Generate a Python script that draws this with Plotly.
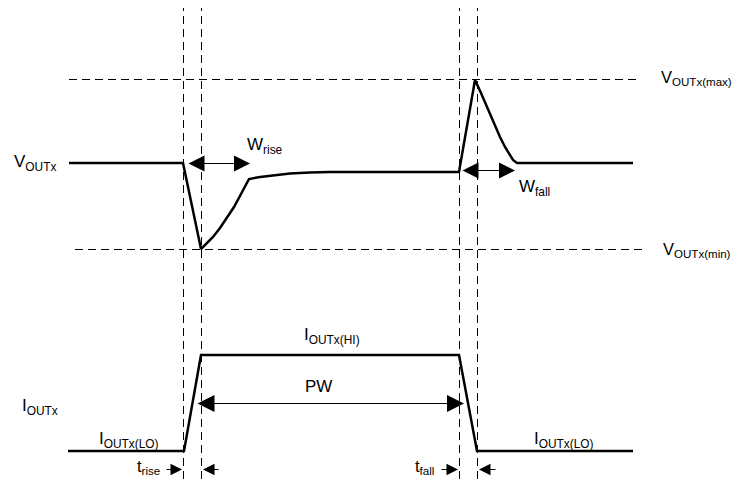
import plotly.graph_objects as go

# output voltage waveform (time, level) - axis y grows downward
t_vout = [69, 183, 201, 206, 213, 220, 227, 234, 241, 249, 260, 275, 290, 310, 330,
          459, 475, 481, 487, 494, 500, 505, 509, 513, 517, 633]
v_out = [163, 163, 249, 244, 237, 228, 218, 207, 194, 179, 177, 175, 173.5, 172.5, 172,
         172, 80, 93, 107, 122, 137, 147, 154, 160, 163, 163]

# output current waveform
t_iout = [68, 184, 201, 459, 477, 633]
i_out = [451, 451, 355, 355, 451, 451]

# timing markers and limit levels
edge_t = [183.5, 201.5, 459.5, 477.5]
edge_span = [3, 482]
v_max, v_max_span = 79.5, [69, 638]
v_min, v_min_span = 249.5, [75, 645]

FONT = "Liberation Sans, Arial, sans-serif"
DASH = "8px,5px"
PAGE_PAD = 8  # default body margin of the html page

fig = go.Figure()

for t in edge_t:
    fig.add_trace(go.Scatter(x=[t, t], y=edge_span, mode="lines",
                             line=dict(color="black", width=1, dash=DASH)))
fig.add_trace(go.Scatter(x=v_max_span, y=[v_max, v_max], mode="lines",
                         line=dict(color="black", width=1, dash=DASH)))
fig.add_trace(go.Scatter(x=v_min_span, y=[v_min, v_min], mode="lines",
                         line=dict(color="black", width=1, dash=DASH)))

fig.add_trace(go.Scatter(x=t_vout, y=v_out, mode="lines",
                         line=dict(color="black", width=2.5)))
fig.add_trace(go.Scatter(x=t_iout, y=i_out, mode="lines",
                         line=dict(color="black", width=2.5)))


def arrow(x, y, ax, ay, size, both=False):
    fig.add_annotation(x=x, y=y, ax=ax, ay=ay, xref="x", yref="y", axref="x", ayref="y",
                       text="", showarrow=True, arrowhead=2, startarrowhead=2,
                       arrowsize=size, startarrowsize=size, arrowwidth=1,
                       arrowcolor="black", arrowside="end+start" if both else "end")


arrow(250, 163.5, 187, 163.5, 3.2, both=True)    # W_rise
arrow(515, 170.5, 461, 170.5, 3.2, both=True)    # W_fall
arrow(464, 403.5, 196, 403.5, 3.4, both=True)    # PW
arrow(182, 469.5, 165, 469.5, 2.3)               # t_rise
arrow(203, 469.5, 220, 469.5, 2.3)
arrow(458, 469.5, 440, 469.5, 2.3)               # t_fall
arrow(479, 469.5, 497, 469.5, 2.3)

labels = [
    ("V<sub>OUTx</sub>", 12, 163, 17),
    ("W<sub>rise</sub>", 245, 146, 17),
    ("W<sub>fall</sub>", 517, 188, 17),
    ("V<sub>OUTx(max)</sub>", 659, 78, 16.5),
    ("V<sub>OUTx(min)</sub>", 661, 250, 16.5),
    ("I<sub>OUTx(HI)</sub>", 302, 336, 17),
    ("PW", 303, 386, 17),
    ("I<sub>OUTx</sub>", 20, 407, 17),
    ("I<sub>OUTx(LO)</sub>", 97, 440, 17),
    ("I<sub>OUTx(LO)</sub>", 532, 440, 17),
    ("t<sub>rise</sub>", 135, 466.5, 16.5),
    ("t<sub>fall</sub>", 413, 466.5, 16.5),
]
for txt, x, y, size in labels:
    fig.add_annotation(x=x, y=y, xref="x", yref="y", text=txt, showarrow=False,
                       xanchor="left", yanchor="middle",
                       font=dict(family=FONT, size=size, color="black"))

fig.update_layout(width=740 - 2 * PAGE_PAD, height=487 - 2 * PAGE_PAD,
                  margin=dict(l=0, r=0, t=0, b=0),
                  paper_bgcolor="white", plot_bgcolor="white", showlegend=False,
                  xaxis=dict(range=[PAGE_PAD, 740 - PAGE_PAD], visible=False, fixedrange=True),
                  yaxis=dict(range=[487 - PAGE_PAD, PAGE_PAD], visible=False, fixedrange=True))

fig.write_html("out.html")
